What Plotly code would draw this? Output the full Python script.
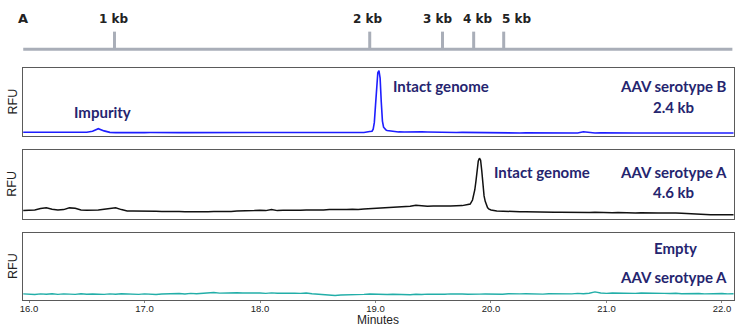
import plotly.graph_objects as go

# ---------------- data ----------------
# sampling times (minutes)
minutes = [
    15.95,
    16.00, 16.05, 16.10, 16.15, 16.20, 16.25, 16.30, 16.35, 16.40, 16.45,
    16.50, 16.55, 16.60, 16.65, 16.70, 16.75, 16.80, 16.85, 16.90, 16.95,
    17.00, 17.05, 17.10, 17.15, 17.20, 17.25, 17.30, 17.35, 17.40, 17.45,
    17.50, 17.55, 17.60, 17.65, 17.70, 17.75, 17.80, 17.85, 17.90, 17.95,
    18.00, 18.05, 18.10, 18.15, 18.20, 18.25, 18.30, 18.35, 18.40, 18.45,
    18.50, 18.55, 18.60, 18.65, 18.70, 18.75, 18.80, 18.85, 18.90, 18.95,
    19.00, 19.05, 19.10, 19.15, 19.20, 19.25, 19.30, 19.35, 19.40, 19.45,
    19.50, 19.55, 19.60, 19.65, 19.70, 19.75, 19.80, 19.85, 19.90, 19.95,
    20.00, 20.05, 20.10, 20.15, 20.20, 20.25, 20.30, 20.35, 20.40, 20.45,
    20.50, 20.55, 20.60, 20.65, 20.70, 20.75, 20.80, 20.85, 20.90, 20.95,
    21.00, 21.05, 21.10, 21.15, 21.20, 21.25, 21.30, 21.35, 21.40, 21.45,
    21.50, 21.55, 21.60, 21.65, 21.70, 21.75, 21.80, 21.85, 21.90, 21.95,
    22.00, 22.05, 22.10,
]

# AAV serotype B (2.4 kb), relative fluorescence (% of panel scale)
rfu_serotype_b = [
    5.5,
    5.5, 5.4, 5.5, 5.4, 5.5, 5.5, 5.4, 5.5, 5.4, 5.5,
    5.6, 7.0, 10.7, 7.5, 5.4, 5.0, 5.2, 5.0, 5.1, 5.0,
    5.0, 5.1, 4.9, 5.0, 5.1, 5.0, 4.9, 5.0, 5.0, 5.1,
    5.0, 4.9, 5.0, 5.1, 5.0, 4.9, 5.0, 5.0, 4.9, 4.6,
    5.0, 4.5, 5.0, 4.4, 5.0, 4.8, 4.5, 5.0, 4.6, 5.0,
    4.4, 5.0, 4.8, 4.4, 5.0, 4.7, 5.0, 4.5, 5.2, 6.5,
    45.0, 50.0, 8.0, 6.5, 6.0, 5.8, 6.2, 6.5, 6.0, 5.8,
    5.5, 5.6, 5.3, 5.5, 5.2, 5.3, 5.1, 5.2, 5.0, 5.0,
    4.8, 4.6, 4.7, 4.5, 4.6, 4.4, 4.6, 4.5, 4.7, 4.4,
    4.6, 4.5, 4.4, 4.6, 4.5, 4.4, 6.2, 4.8, 4.5, 4.6,
    4.4, 4.5, 4.4, 4.5, 4.4, 4.4, 4.5, 4.4, 4.5, 4.4,
    4.4, 4.5, 4.4, 4.4, 4.5, 4.4, 4.4, 4.5, 4.4, 4.4,
    4.4, 4.4, 4.4,
]
# finer sampling across the intact-genome peak
peak_b_minutes = [18.97, 18.98, 18.99, 19.00, 19.01, 19.02, 19.03,
                  19.04, 19.05, 19.06, 19.07, 19.08, 19.09]
peak_b_rfu = [7, 10, 20, 45, 75, 93, 96, 85, 50, 22, 13, 10, 9]

# AAV serotype A (4.6 kb)
rfu_serotype_a = [
    11.5,
    12.0, 12.5, 14.5, 15.5, 13.5, 12.5, 13.0, 15.5, 15.0, 12.5,
    12.0, 12.0, 12.5, 13.5, 15.0, 15.5, 13.0, 11.0, 10.8, 11.0,
    10.5, 10.8, 10.5, 10.2, 10.6, 10.0, 10.4, 10.0, 9.8, 10.2,
    9.7, 10.0, 10.4, 10.0, 10.5, 10.2, 10.8, 11.0, 10.5, 11.5,
    12.0, 11.5, 13.0, 11.5, 12.0, 11.8, 12.2, 12.0, 12.5, 12.2,
    12.8, 12.5, 13.0, 12.8, 13.2, 13.0, 13.5, 13.2, 14.0, 14.5,
    15.5, 15.8, 16.0, 16.2, 16.5, 17.0, 18.0, 19.5, 18.5, 18.0,
    18.2, 18.0, 18.4, 18.2, 18.5, 18.8, 20.5, 34.0, 88.0, 25.0,
    12.5, 11.0, 10.5, 10.2, 10.0, 9.8, 10.0, 9.6, 9.5, 9.0,
    9.2, 9.0, 9.3, 9.0, 9.2, 8.8, 9.0, 8.8, 9.0, 8.6,
    8.8, 8.5, 8.8, 8.4, 8.6, 8.2, 8.4, 8.0, 8.3, 8.0,
    8.2, 8.5, 8.0, 7.5, 7.0, 6.0, 5.5, 5.8, 5.5, 5.6,
    5.4, 5.5, 5.5,
]
peak_a_minutes = [19.82, 19.84, 19.86, 19.87, 19.88, 19.89, 19.90,
                  19.91, 19.92, 19.93, 19.94, 19.96, 19.97, 19.98]
peak_a_rfu = [21, 27, 42, 55, 70, 84, 88, 85, 70, 50, 33, 20, 16, 14]

# empty capsids, AAV serotype A
rfu_empty = [
    9.5,
    9.0, 8.5, 9.5, 9.0, 9.8, 8.8, 9.5, 9.2, 8.7, 9.6,
    8.9, 9.4, 8.6, 8.8, 9.5, 9.0, 9.8, 9.2, 9.6, 8.8,
    9.5, 9.0, 8.5, 9.3, 9.8, 9.2, 10.0, 9.4, 10.2, 9.8,
    10.5, 10.8, 11.5, 10.6, 11.0, 10.4, 11.2, 10.8, 11.0, 10.5,
    10.8, 10.2, 11.0, 10.5, 10.8, 10.0, 10.6, 10.2, 10.8, 9.8,
    9.0, 8.2, 7.8, 7.2, 7.8, 8.0, 7.5, 8.2, 8.8, 9.4,
    8.8, 9.2, 8.6, 9.0, 8.4, 8.8, 8.2, 9.0, 8.5, 9.2,
    8.8, 9.4, 9.0, 9.5, 8.9, 9.3, 9.0, 9.6, 9.2, 9.4,
    9.1, 9.6, 9.0, 9.8, 9.3, 9.5, 9.8, 9.4, 9.6, 9.2,
    9.8, 9.5, 9.2, 9.9, 9.5, 10.2, 9.8, 10.5, 12.5, 10.8,
    10.2, 10.8, 10.4, 11.0, 10.5, 10.2, 10.8, 10.4, 10.0, 10.6,
    10.2, 10.0, 10.5, 9.8, 10.2, 9.6, 10.0, 9.5, 9.8, 9.4,
    10.0, 9.5, 9.8,
]

# size-ladder markers on the top ruler
ladder_labels = ["1 kb", "2 kb", "3 kb", "4 kb", "5 kb"]
ladder_minutes = [16.74, 18.95, 19.58, 19.85, 20.11]
ruler_span = [15.95, 22.09]

tick_minutes = [16, 17, 18, 19, 20, 21, 22]
tick_labels = ["16.0", "17.0", "18.0", "19.0", "20.0", "21.0", "22.0"]


def merge(t_base, v_base, t_fine, v_fine):
    pts = dict(zip(t_base, v_base))
    pts.update(zip(t_fine, v_fine))
    keys = sorted(pts)
    return keys, [pts[k] for k in keys]


t_b, y_b = merge(minutes, rfu_serotype_b, peak_b_minutes, peak_b_rfu)
t_a, y_a = merge(minutes, rfu_serotype_a, peak_a_minutes, peak_a_rfu)

# ---------------- styling ----------------
W, H = 750, 327
X_DOM = [23 / W, 734 / W]
X_RANGE = [15.948, 22.104]
NAVY = "#25256f"
FRAME = "#5a5a5a"
RULER = "#a9aeb8"
LABEL_FONT = dict(family="Lato", size=15, color=NAVY, weight="bold")
# label nudges (px) so the close-set ladder labels do not collide
LADDER_SHIFT = [0, -2, -4, 4, 13]


def py(px):
    return 1 - px / H


fig = go.Figure()

fig.add_trace(go.Scatter(x=t_b, y=y_b, mode="lines",
                         line=dict(color="#1e1eff", width=1.6),
                         xaxis="x", yaxis="y"))
fig.add_trace(go.Scatter(x=t_a, y=y_a, mode="lines",
                         line=dict(color="#111111", width=1.5),
                         xaxis="x2", yaxis="y2"))
fig.add_trace(go.Scatter(x=minutes, y=rfu_empty, mode="lines",
                         line=dict(color="#22aea8", width=1.4),
                         xaxis="x3", yaxis="y3"))

# ruler: baseline plus a tick for each ladder size
fig.add_trace(go.Scatter(x=ruler_span, y=[0.08, 0.08], mode="lines",
                         line=dict(color=RULER, width=3),
                         xaxis="x4", yaxis="y4"))
tick_x, tick_y = [], []
for m in ladder_minutes:
    tick_x += [m, m, None]
    tick_y += [0.08, 0.88, None]
fig.add_trace(go.Scatter(x=tick_x, y=tick_y, mode="lines",
                         line=dict(color=RULER, width=3),
                         xaxis="x4", yaxis="y4"))

panel_axis = dict(range=X_RANGE, domain=X_DOM, showgrid=False, zeroline=False,
                  showline=True, linecolor=FRAME, linewidth=1.2, mirror=True,
                  ticks="", showticklabels=False, fixedrange=True,
                  automargin=False)
panel_y = dict(range=[0, 100], showgrid=False, zeroline=False, showline=True,
               linecolor=FRAME, linewidth=1.2, mirror=True, ticks="",
               showticklabels=False, fixedrange=True, automargin=False)

y_doms = [[py(136), py(68)], [py(218.5), py(150)], [py(300.3), py(232.7)]]

layout = dict(
    width=W, height=H, margin=dict(l=0, r=0, t=0, b=0, autoexpand=False),
    paper_bgcolor="white", plot_bgcolor="white", showlegend=False,
    xaxis=dict(panel_axis, anchor="y"),
    yaxis=dict(panel_y, domain=y_doms[0], anchor="x"),
    xaxis2=dict(panel_axis, anchor="y2"),
    yaxis2=dict(panel_y, domain=y_doms[1], anchor="x2"),
    xaxis3=dict(panel_axis, anchor="y3", showticklabels=True,
                tickvals=tick_minutes, ticktext=tick_labels,
                ticks="outside", ticklen=2, tickcolor="#888", tickwidth=1,
                ticklabelstandoff=-3,
                tickfont=dict(family="Liberation Sans", size=9.5, color="#222")),
    yaxis3=dict(panel_y, domain=y_doms[2], anchor="x3"),
    xaxis4=dict(range=X_RANGE, domain=X_DOM, visible=False, anchor="y4",
                fixedrange=True, automargin=False),
    yaxis4=dict(range=[0, 1], domain=[py(51), py(29)], visible=False,
                anchor="x4", fixedrange=True, automargin=False),
)
fig.update_layout(**layout)

ann = []
# ladder labels above the ruler ticks
for lab, m, dx in zip(ladder_labels, ladder_minutes, LADDER_SHIFT):
    ann.append(dict(x=m, y=py(19), xref="x4", yref="paper", text=lab,
                    showarrow=False, xanchor="center", yanchor="middle",
                    xshift=dx,
                    font=dict(family="DejaVu Sans", size=12, color="#222",
                              weight="bold")))
ann.append(dict(x=22.5 / W, y=py(18), xref="paper", yref="paper", text="A",
                showarrow=False, xanchor="center", yanchor="middle",
                font=dict(family="DejaVu Sans", size=13, color="#222",
                          weight="bold")))

# RFU labels
for d in y_doms:
    ann.append(dict(x=12.5 / W, y=(d[0] + d[1]) / 2, xref="paper", yref="paper",
                    text="RFU", textangle=-90, showarrow=False,
                    xanchor="center", yanchor="middle",
                    font=dict(family="Liberation Sans", size=12.5, color="#222")))

# x-axis title
ann.append(dict(x=378 / W, y=py(319.5), xref="paper", yref="paper",
                text="Minutes", showarrow=False, xanchor="center",
                yanchor="middle", borderpad=0,
                font=dict(family="Liberation Sans", size=12, color="#222")))

texts = [
    ("Impurity", 102, 112, "center"),
    ("Intact genome", 391, 86, "left"),
    ("AAV serotype B", 673, 86, "center"),
    ("2.4 kb", 673, 107, "center"),
    ("Intact genome", 492, 172, "left"),
    ("AAV serotype A", 673, 172, "center"),
    ("4.6 kb", 673, 192, "center"),
    ("Empty", 675, 248, "center"),
    ("AAV serotype A", 673, 277, "center"),
]
for t, x, y, xa in texts:
    ann.append(dict(x=x / W, y=py(y), xref="paper", yref="paper", text=t,
                    showarrow=False, xanchor=xa, yanchor="middle",
                    font=LABEL_FONT))

fig.update_layout(annotations=ann)

fig.write_html("out.html")
